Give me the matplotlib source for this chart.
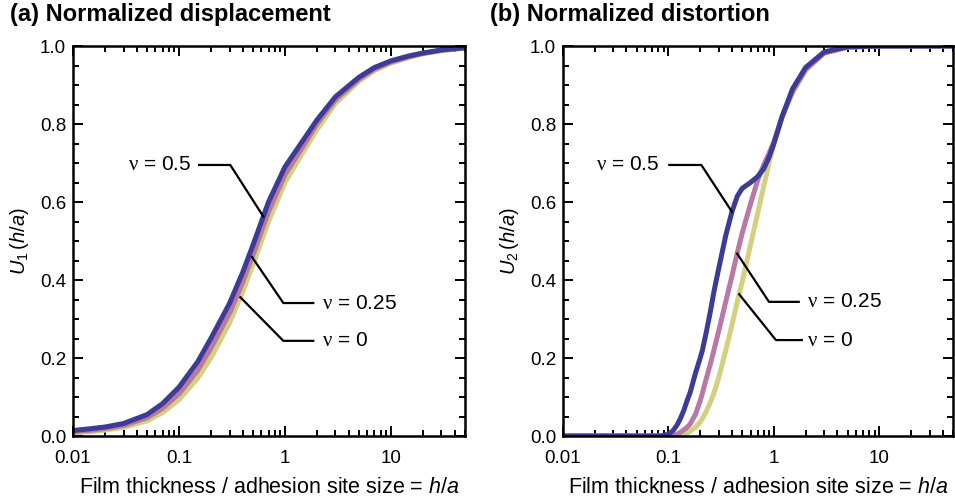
import numpy as np
import matplotlib
matplotlib.use("Agg")
import matplotlib.pyplot as plt
from matplotlib.ticker import FixedLocator, MultipleLocator, NullFormatter, FormatStrFormatter

plt.rcParams['font.family'] = ['Liberation Sans', 'DejaVu Sans']
plt.rcParams['mathtext.fontset'] = 'custom'
plt.rcParams['mathtext.rm'] = 'Liberation Sans'
plt.rcParams['mathtext.it'] = 'Liberation Sans:italic'
plt.rcParams['mathtext.sf'] = 'Liberation Serif'

# (a) normalized displacement U1
h_a = [0.01, 0.015, 0.02, 0.03, 0.05, 0.07, 0.1, 0.15, 0.2, 0.3, 0.4, 0.5,
       0.7, 1, 1.5, 2, 3, 5, 7, 10, 15, 20, 30, 50]
u1_nu0 = [0.008, 0.011, 0.015, 0.022, 0.039, 0.06, 0.093, 0.148, 0.20, 0.29,
          0.37, 0.44, 0.55, 0.65, 0.73, 0.785, 0.853, 0.91, 0.937, 0.956,
          0.971, 0.98, 0.988, 0.995]
u1_nu025 = [0.011, 0.015, 0.019, 0.027, 0.047, 0.071, 0.108, 0.168, 0.225,
            0.315, 0.395, 0.465, 0.575, 0.67, 0.745, 0.80, 0.862, 0.915,
            0.941, 0.959, 0.973, 0.981, 0.989, 0.995]
u1_nu05 = [0.014, 0.019, 0.023, 0.032, 0.055, 0.083, 0.125, 0.19, 0.25, 0.34,
           0.42, 0.49, 0.60, 0.69, 0.76, 0.81, 0.87, 0.92, 0.945, 0.962,
           0.975, 0.982, 0.99, 0.996]

# (b) normalized distortion U2
h_b = [0.01, 0.05, 0.08, 0.09, 0.1, 0.11, 0.12, 0.13, 0.14, 0.15, 0.16, 0.18,
       0.2, 0.21, 0.23, 0.25, 0.27, 0.3, 0.35, 0.4, 0.45, 0.5, 0.6, 0.7, 0.8,
       0.9, 1.0, 1.2, 1.5, 2, 3, 5, 10, 50]
u2_nu0 = [0, 0, 0, 0, 0, 0, 0, 0, 0.003, 0.007, 0.012, 0.022, 0.036, 0.045,
          0.065, 0.087, 0.11, 0.15, 0.22, 0.285, 0.345, 0.395, 0.49, 0.57,
          0.64, 0.70, 0.75, 0.82, 0.88, 0.938, 0.982, 0.997, 1.0, 1.0]
u2_nu025 = [0, 0, 0, 0, 0, 0, 0.004, 0.01, 0.016, 0.022, 0.03, 0.055, 0.09,
            0.11, 0.15, 0.185, 0.22, 0.27, 0.345, 0.41, 0.47, 0.52, 0.595,
            0.655, 0.695, 0.725, 0.755, 0.82, 0.883, 0.94, 0.982, 0.997,
            1.0, 1.0]
u2_nu05 = [0, 0, 0, 0.001, 0.005, 0.013, 0.027, 0.045, 0.066, 0.09, 0.11,
           0.16, 0.2, 0.22, 0.27, 0.32, 0.37, 0.43, 0.515, 0.575, 0.615,
           0.635, 0.65, 0.665, 0.685, 0.715, 0.75, 0.82, 0.89, 0.945, 0.985,
           0.998, 1.0, 1.0]

nu_labels = [r'$\mathsf{\nu}$ = 0', r'$\mathsf{\nu}$ = 0.25', r'$\mathsf{\nu}$ = 0.5']
colors = ['#d4d080', '#b978a5', '#3c3c96']

# label layout: (series index, anchor h, elbow h, elbow y, end h, text h, ha)
labels_a = [(2, 0.625, 0.305, 0.695, 0.155, 0.13, 'right'),
            (1, 0.49, 0.966, 0.341, 1.85, 2.25, 'left'),
            (0, 0.38, 0.966, 0.244, 1.85, 2.25, 'left')]
labels_b = [(2, 0.40, 0.205, 0.695, 0.102, 0.082, 'right'),
            (1, 0.448, 0.898, 0.344, 1.72, 2.05, 'left'),
            (0, 0.468, 1.045, 0.246, 1.84, 2.05, 'left')]

fig = plt.figure(figsize=(9.55, 5.03), dpi=100)
ax1 = fig.add_axes([0.0764, 0.1332, 0.4105, 0.7753])
ax2 = fig.add_axes([0.5895, 0.1332, 0.4085, 0.7753])

panels = [(ax1, h_a, [u1_nu0, u1_nu025, u1_nu05], labels_a, r'$U_1\,(h/a)$'),
          (ax2, h_b, [u2_nu0, u2_nu025, u2_nu05], labels_b, r'$U_2\,(h/a)$')]

for ax, h, series, labs, ylab in panels:
    for u, c in zip(series, colors):
        ax.plot(h, u, color=c, lw=3.6, solid_capstyle='butt', solid_joinstyle='round')
    for idx, ha_, eh, ey, endh, th, al in labs:
        ay = np.interp(np.log10(ha_), np.log10(h), series[idx])
        ax.plot([ha_, eh, endh], [ay, ey, ey], color='black', lw=1.6, zorder=5)
        ax.text(th, ey, nu_labels[idx], ha=al, va='center', fontsize=15)
    ax.set_xscale('log')
    ax.set_xlim(0.01, 50)
    ax.set_ylim(0, 1)
    ax.xaxis.set_major_locator(FixedLocator([0.01, 0.1, 1, 10]))
    ax.set_xticklabels(['0.01', '0.1', '1', '10'])
    minors = [m * d for d in [0.01, 0.1, 1, 10] for m in range(2, 10) if m * d <= 50]
    ax.xaxis.set_minor_locator(FixedLocator(minors))
    ax.xaxis.set_minor_formatter(NullFormatter())
    ax.yaxis.set_major_locator(FixedLocator([0, 0.2, 0.4, 0.6, 0.8, 1.0]))
    ax.yaxis.set_major_formatter(FormatStrFormatter('%.1f'))
    ax.yaxis.set_minor_locator(MultipleLocator(0.05))
    ax.tick_params(which='both', direction='in', top=True, right=True, width=1.4)
    ax.tick_params(which='major', length=7, labelsize=13.5)
    ax.tick_params(which='minor', length=4)
    ax.tick_params(axis='x', which='major', pad=10)
    ax.tick_params(axis='y', which='major', pad=5)
    for s in ax.spines.values():
        s.set_linewidth(1.8)
    ax.set_xlabel('Film thickness / adhesion site size = $h/a$', fontsize=15.5, labelpad=7)
    ax.set_ylabel(ylab, fontsize=14.5, labelpad=6)

fig.text(10 / 955, 1 - 21 / 503, '(a) Normalized displacement', fontsize=17, fontweight='bold')
fig.text(490 / 955, 1 - 21 / 503, '(b) Normalized distortion', fontsize=17, fontweight='bold')

fig.savefig('out.png', dpi=100)
